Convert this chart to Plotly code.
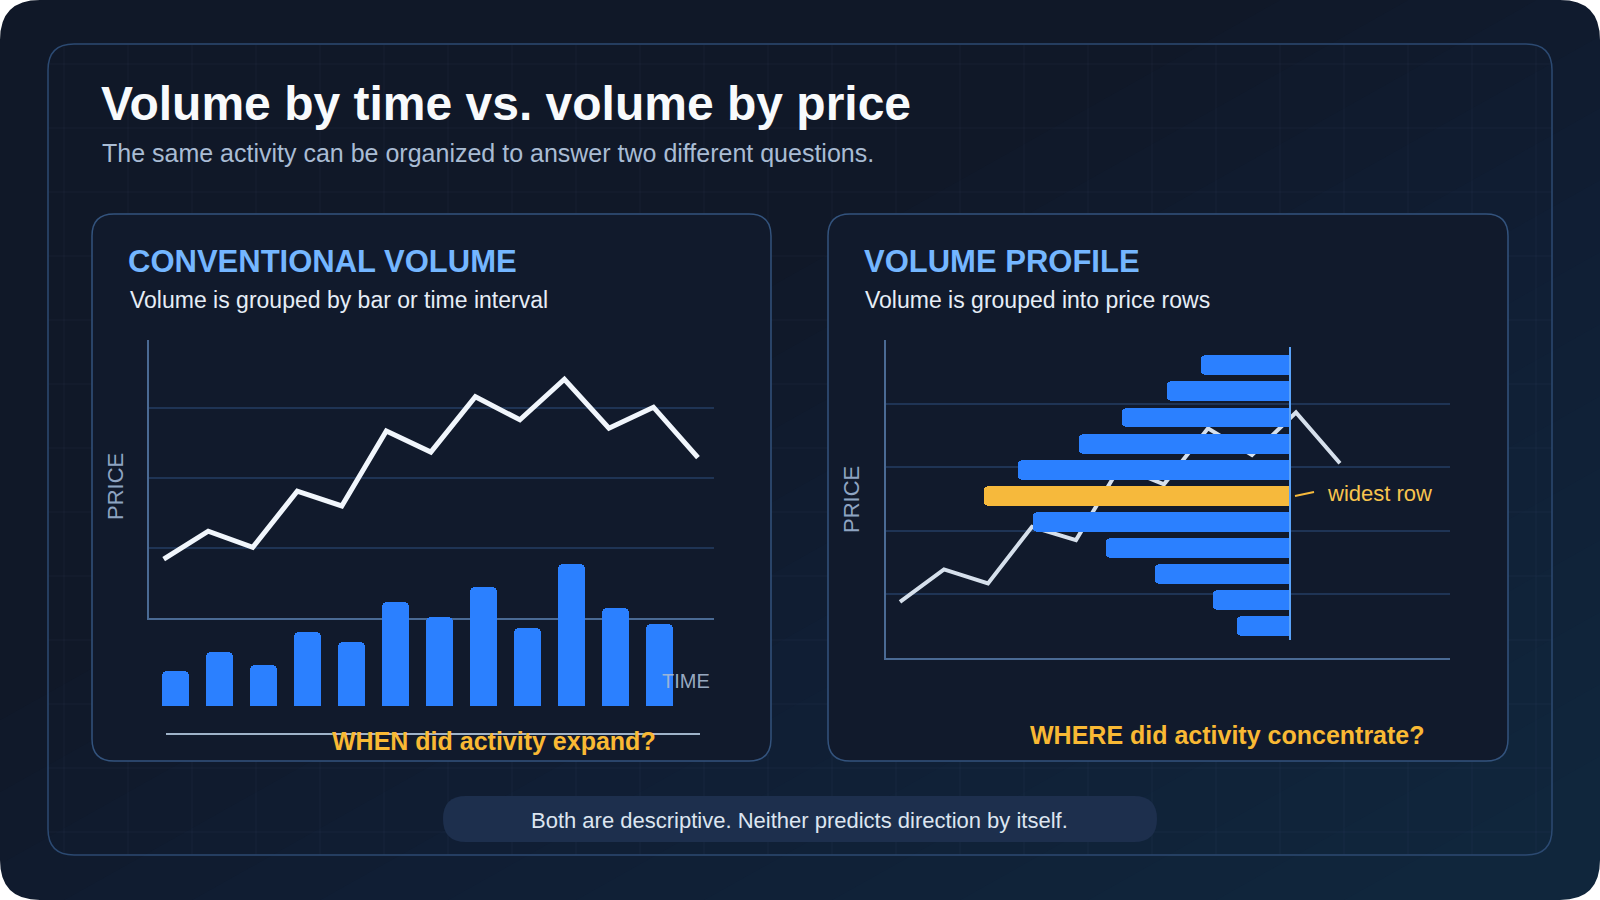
# volume by time vs volume by price - two panel explainer
import plotly.graph_objects as go

W, H = 1600, 900

# left panel: price path over time and volume per bar
price_time = [8.4, 12.4, 10.1, 18.1, 16.0, 26.7, 23.7, 31.6, 28.3, 34.1, 27.1, 30.1, 22.9]
volume_time = [25, 38, 29, 52, 45, 73, 63, 84, 55, 100, 69, 58]

# right panel: price path and volume per price row
price_path = [8.8, 13.9, 11.7, 20.6, 18.5, 30.1, 27.3, 36.1, 31.9, 38.6, 30.6]
row_prices = [5.0, 9.1, 13.2, 17.3, 21.4, 25.5, 29.6, 33.7, 37.8, 41.9, 46.0]
row_volume = [17, 25, 44, 60, 84, 100, 89, 69, 55, 40, 29]

BLUE = '#2b80ff'
GOLD = '#f6b93c'
FONT = 'Liberation Sans, Arial, sans-serif'


def px(x):
    return x / W


def py(y):
    return 1 - y / H


def rrect(x0, y0, x1, y1, r):
    pts = [('M', x0 + r, y0), ('L', x1 - r, y0), ('Q', x1, y0, x1, y0 + r),
           ('L', x1, y1 - r), ('Q', x1, y1, x1 - r, y1), ('L', x0 + r, y1),
           ('Q', x0, y1, x0, y1 - r), ('L', x0, y0 + r), ('Q', x0, y0, x0 + r, y0)]
    s = ''
    for p in pts:
        c = p[0]
        nums = p[1:]
        coords = []
        for i in range(0, len(nums), 2):
            coords.append('%.5f,%.5f' % (px(nums[i]), py(nums[i + 1])))
        s += c + ' ' + ' '.join(coords) + ' '
    return s + 'Z'


def ppath(points):
    s = 'M ' + ' L '.join('%.5f,%.5f' % (px(a), py(b)) for a, b in points)
    return s + ' Z'


shapes = []

# card gradient (many soft bands toward bottom right)
for k in range(14):
    t = 0.8 + k * 0.08
    if t < 1:
        pts = [(W, H), (W, 0), (t * W, 0), (0, t * H), (0, H)]
    else:
        pts = [(W, H), (W, (t - 1) * H), ((t - 1) * W, H)]
    shapes.append(dict(type='path', path=ppath(pts), xref='paper', yref='paper',
                       fillcolor='rgba(60,85,140,0.02)', line=dict(width=0), layer='below'))

# white corners outside the rounded card
R = 40
corners = [
    [(0, 0), (R, 0), (0, R)],
    [(W, 0), (W - R, 0), (W, R)],
    [(0, H), (R, H), (0, H - R)],
    [(W, H), (W - R, H), (W, H - R)],
]
for (cx, cy), (ax, ay), (bx, by) in corners:
    path = 'M %.5f,%.5f L %.5f,%.5f Q %.5f,%.5f %.5f,%.5f Z' % (
        px(cx), py(cy), px(ax), py(ay), px(cx), py(cy), px(bx), py(by))
    shapes.append(dict(type='path', path=path, xref='paper', yref='paper',
                       fillcolor='white', line=dict(width=0), layer='below'))

# faint background grid inside the frame
for k in range(1, 25):
    shapes.append(dict(type='line', xref='paper', yref='paper', x0=px(64 * k), x1=px(64 * k),
                       y0=py(44), y1=py(855), line=dict(color='rgba(130,160,210,0.06)', width=1),
                       layer='below'))
for k in range(1, 14):
    shapes.append(dict(type='line', xref='paper', yref='paper', x0=px(48), x1=px(1552),
                       y0=py(64 * k), y1=py(64 * k), line=dict(color='rgba(130,160,210,0.06)', width=1),
                       layer='below'))

# inner frame
shapes.append(dict(type='path', path=rrect(48, 44, 1552, 855, 26), xref='paper', yref='paper',
                   line=dict(color='#2c4a72', width=1.5), fillcolor='rgba(0,0,0,0)', layer='below'))

# panels
for x0, x1 in [(92, 771), (828, 1508)]:
    shapes.append(dict(type='path', path=rrect(x0, 214, x1, 761, 22), xref='paper', yref='paper',
                       line=dict(color='#33537d', width=1.5), fillcolor='#111a2c', layer='below'))

# footer pill
shapes.append(dict(type='path', path=rrect(443, 796, 1157, 842, 23), xref='paper', yref='paper',
                   line=dict(width=0), fillcolor='#1d2f4d', layer='below'))

# baseline under the time bars
shapes.append(dict(type='line', xref='paper', yref='paper', x0=px(166), x1=px(700),
                   y0=py(734), y1=py(734), line=dict(color='#9fb3c9', width=2)))

# profile base line and leader for the widest row
shapes.append(dict(type='line', xref='paper', yref='paper', x0=px(1290), x1=px(1290),
                   y0=py(347), y1=py(640), line=dict(color='#5aa2f8', width=2)))
shapes.append(dict(type='line', xref='paper', yref='paper', x0=px(1295), x1=px(1314),
                   y0=py(496), y1=py(492), line=dict(color=GOLD, width=2)))

annotations = []


def note(text, x, y, size, color, anchor='left', bold=False, angle=0):
    annotations.append(dict(text=text, x=px(x), y=py(y), xref='paper', yref='paper',
                            xanchor=anchor, yanchor='middle', showarrow=False, textangle=angle,
                            font=dict(family=FONT, size=size, color=color,
                                      weight='bold' if bold else 'normal')))


note('Volume by time vs. volume by price', 99, 103, 48, '#f8fafc', bold=True)
note('The same activity can be organized to answer two different questions.', 100, 153, 25, '#a9bcd4')
note('CONVENTIONAL VOLUME', 126, 261, 31, '#74b6ff', bold=True)
note('Volume is grouped by bar or time interval', 128, 300, 23, '#e6edf6')
note('VOLUME PROFILE', 862, 261, 31, '#74b6ff', bold=True)
note('Volume is grouped into price rows', 863, 300, 23, '#e6edf6')
note('PRICE', 115, 486, 22, '#8ea4c2', anchor='center', angle=-90)
note('PRICE', 851, 500, 22, '#8ea4c2', anchor='center', angle=-90)
note('TIME', 712, 681, 20, 'rgba(170,188,212,0.9)', anchor='right')
note('widest row', 1325, 493, 22, '#f7c44e')
note('WHEN did activity expand?', 494, 741, 25, '#f9b934', anchor='center', bold=True)
note('WHERE did activity concentrate?', 1227, 735, 25, '#f9b934', anchor='center', bold=True)
note('Both are descriptive. Neither predicts direction by itself.', 799, 820, 22, '#dce5f0',
     anchor='center')

fig = go.Figure()

# left: price line
fig.add_trace(go.Scatter(x=list(range(len(price_time))), y=price_time, mode='lines',
                         line=dict(color='#f1f6fc', width=5), xaxis='x', yaxis='y',
                         hoverinfo='skip'))
# left: volume bars per time interval
fig.add_trace(go.Bar(x=list(range(len(volume_time))), y=volume_time, width=0.61,
                     marker=dict(color=BLUE, cornerradius=5, line=dict(width=0)),
                     xaxis='x3', yaxis='y3', hoverinfo='skip'))
# right: price line
fig.add_trace(go.Scatter(x=list(range(len(price_path))), y=price_path, mode='lines',
                         line=dict(color='#d6e0ec', width=4), xaxis='x2', yaxis='y2',
                         hoverinfo='skip'))
# right: volume profile rows
widest = row_volume.index(max(row_volume))
fig.add_trace(go.Bar(x=row_volume, y=row_prices, orientation='h', width=3.14,
                     marker=dict(color=[GOLD if i == widest else BLUE for i in range(len(row_volume))],
                                 cornerradius=5, line=dict(width=0)),
                     xaxis='x4', yaxis='y2', hoverinfo='skip'))

axis_line = dict(showline=True, linecolor='#4a6a94', linewidth=2, showticklabels=False,
                 ticks='', zeroline=False, fixedrange=True)
grid = dict(showgrid=True, gridcolor='#1f3455', gridwidth=2, dtick=10, tick0=0)

fig.update_layout(
    width=W, height=H, autosize=False,
    margin=dict(l=0, r=0, t=0, b=0),
    paper_bgcolor='#101828', plot_bgcolor='rgba(0,0,0,0)',
    showlegend=False, bargap=0,
    shapes=shapes, annotations=annotations,
    xaxis=dict(domain=[px(149), px(714)], range=[-0.33, 12.36], anchor='y', showgrid=False,
               **axis_line),
    yaxis=dict(domain=[py(618), py(340)], range=[0, 39.7], anchor='x', **grid, **axis_line),
    xaxis3=dict(domain=[px(149), px(714)], range=[-0.607, 12.236], anchor='y3', visible=False,
                fixedrange=True),
    yaxis3=dict(domain=[py(706), py(564)], range=[0, 100], anchor='x3', visible=False,
                fixedrange=True),
    xaxis2=dict(domain=[px(885.7), px(1449.5)], range=[-0.325, 12.49], anchor='y2', showgrid=False,
                **axis_line),
    yaxis2=dict(domain=[py(657.7), py(340)], range=[0, 50], anchor='x2', **grid, **axis_line),
    xaxis4=dict(overlaying='x2', range=[132.2, -52.6], anchor='y2', visible=False,
                fixedrange=True),
)

fig.write_html("out.html", config={'displayModeBar': False},
               post_script="document.body.style.margin='0';document.body.style.overflow='hidden';")
